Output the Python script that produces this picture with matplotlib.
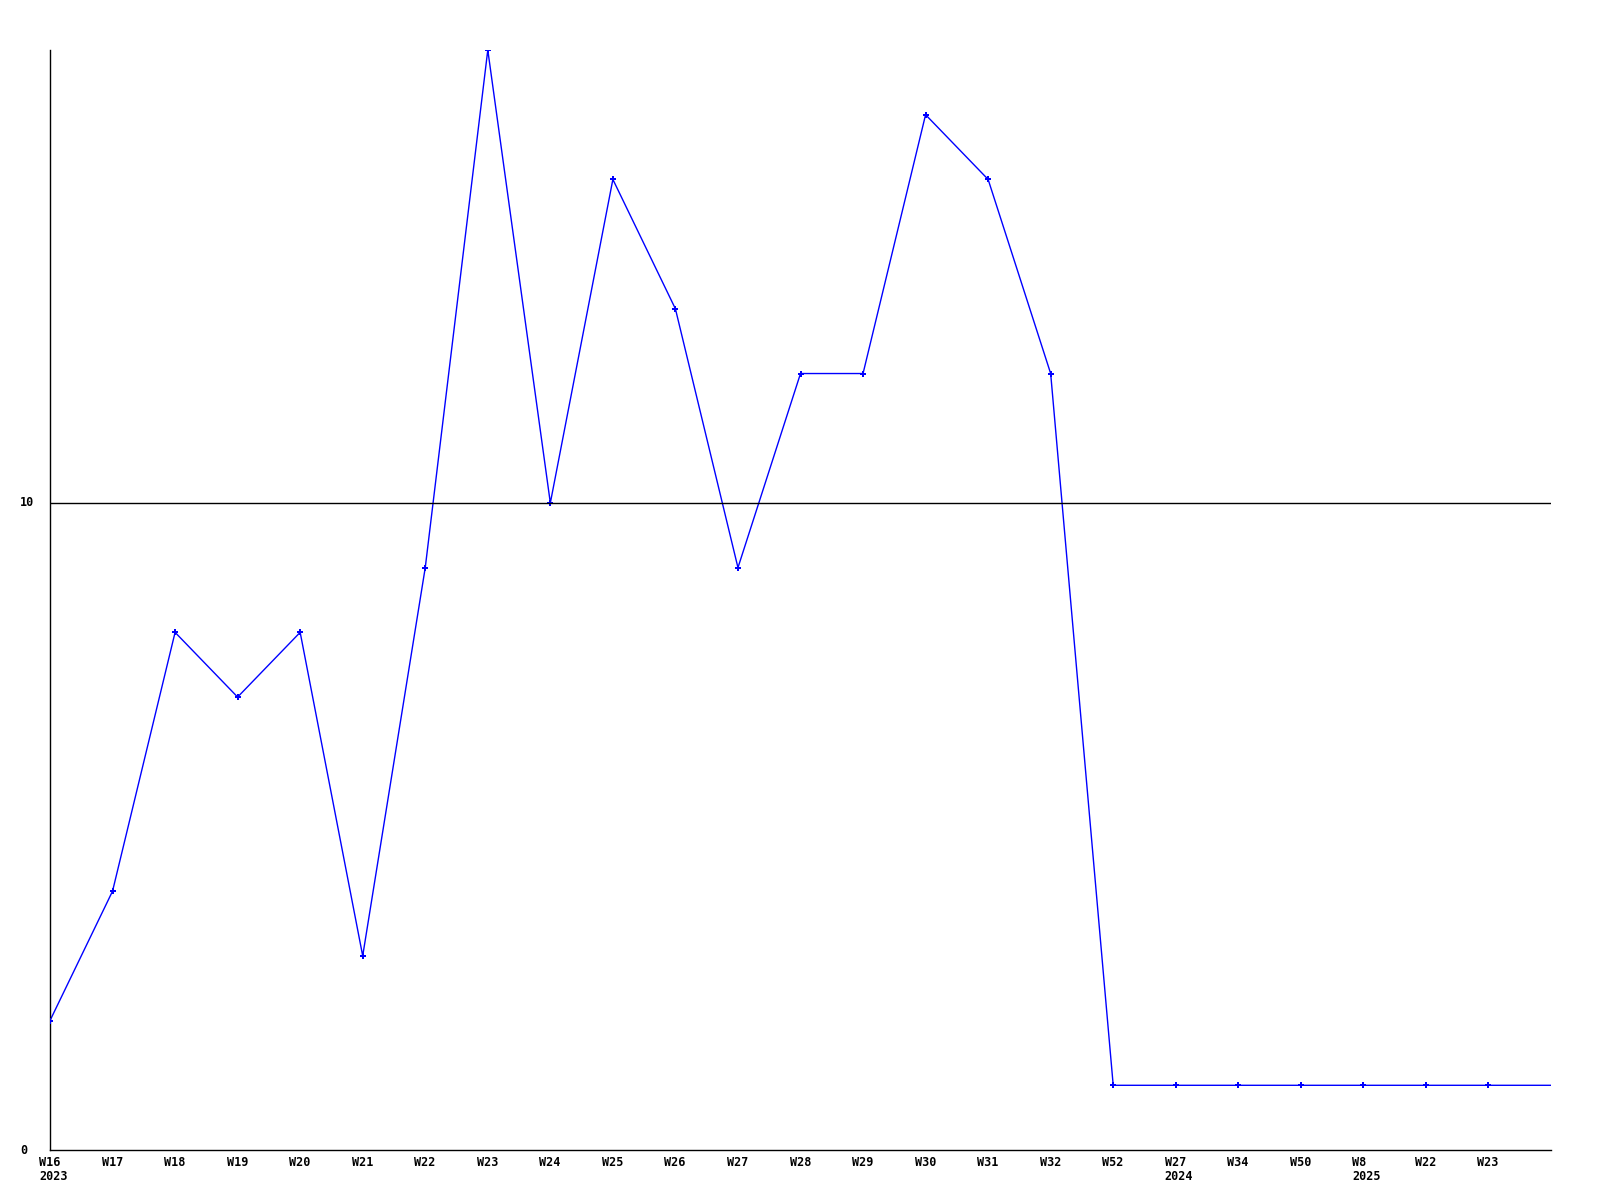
import matplotlib
matplotlib.use("Agg")
from matplotlib import pyplot as plt
from matplotlib import transforms

# weekly counts
weeks = ["W16", "W17", "W18", "W19", "W20", "W21", "W22", "W23", "W24", "W25",
         "W26", "W27", "W28", "W29", "W30", "W31", "W32", "W52", "W27", "W34",
         "W50", "W8", "W22", "W23"]
years = {0: "2023", 18: "2024", 21: "2025"}
values = [2, 4, 8, 7, 8, 3, 9, 17, 10, 15, 13, 9, 12, 12, 16, 15, 12, 1,
          1, 1, 1, 1, 1, 1]
y_ticks = [0, 10]

fig = plt.figure(figsize=(16, 12), dpi=100)
ax = fig.add_axes([50 / 1600, 50 / 1200, 1501 / 1600, 1100 / 1200])

xs = list(range(len(values)))
# line keeps going flat to the right edge
ax.plot(xs + [len(values)], values + [values[-1]], color="#0000ff", lw=1, zorder=2)
ax.plot(xs, values, ls="none", marker="P", ms=5, color="#0000ff", mew=0, zorder=3)

for t in y_ticks[1:]:
    ax.axhline(t, color="black", lw=1, zorder=4)

ax.set_xlim(0, len(values))
ax.set_ylim(0, 17)
ax.spines["top"].set_visible(False)
ax.spines["right"].set_visible(False)
for s in ("left", "bottom"):
    ax.spines[s].set_linewidth(1)
ax.set_xticks([])
ax.set_yticks([])

font = dict(family="DejaVu Sans Mono", weight="bold", size=8.5)
off = transforms.ScaledTranslation(-11 / 100, 0, fig.dpi_scale_trans)
tr = ax.get_xaxis_transform() + off
for i, w in enumerate(weeks):
    ax.text(i, -12 / 1100, w, transform=tr, ha="left", va="center", **font)
    if i in years:
        ax.text(i, -27 / 1100, years[i], transform=tr, ha="left", va="center", **font)

ytr = transforms.blended_transform_factory(fig.transFigure, ax.transData)
for t in y_ticks:
    ax.text(20 / 1600, t, str(t), transform=ytr, ha="left", va="center", **font)

fig.savefig("out.png", dpi=100)
